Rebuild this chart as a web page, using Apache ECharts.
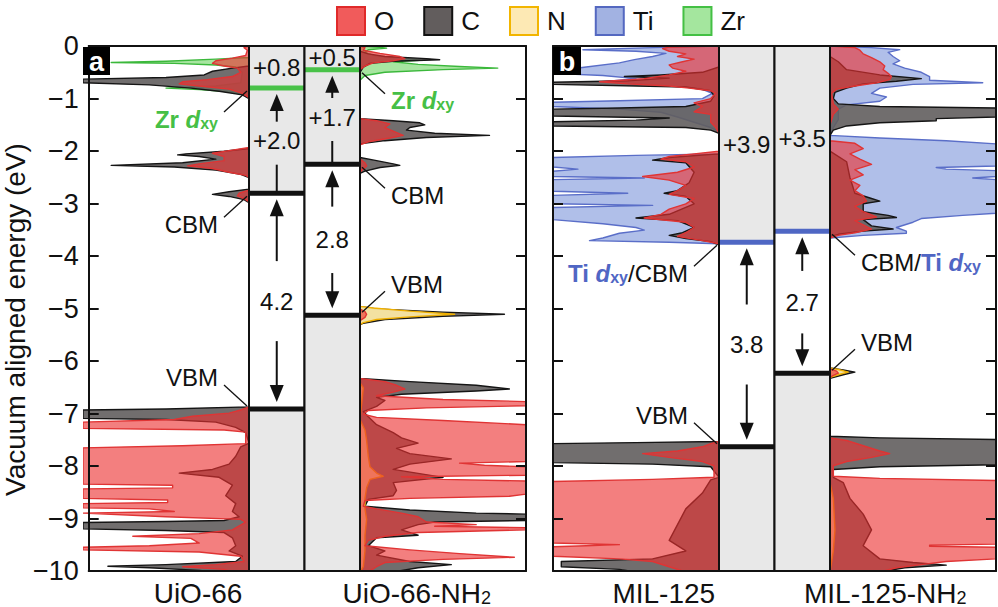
<!DOCTYPE html>
<html><head><meta charset="utf-8">
<script src="https://cdn.jsdelivr.net/npm/echarts@6/dist/echarts.min.js"></script>
<style>html,body{margin:0;padding:0;background:#fff}#c{width:998px;height:607px}</style>
</head><body><div id="c"></div>
<script>
// ---------------- DATA ----------------
const categoriesA = ['UiO-66', 'UiO-66-NH₂'];
const categoriesB = ['MIL-125', 'MIL-125-NH₂'];
const yTickLabels = ['0','−1','−2','−3','−4','−5','−6','−7','−8','−9','−10'];
const legendNames = ['O','C','N','Ti','Zr'];

// band levels (eV) for UiO-66, UiO-66-NH2, MIL-125, MIL-125-NH2
const upperLevel = [-0.8, -0.45, null, null];
const cbmLevel   = [-2.8, -2.25, -3.73, -3.52];
const vbmLevel   = [-6.9, -5.12, -7.62, -6.22];
const topLabel   = ['+0.8', '+0.5', '+3.9', '+3.5'];
const midLabel   = ['+2.0', '+1.7', null, null];
const gapLabel   = ['4.2', '2.8', '3.8', '2.7'];
const annotUpper = ['{g|Zr }{gi|d}{gs|xy}', '{g|Zr }{gi|d}{gs|xy}', null, null];
const annotCbm   = ['CBM', 'CBM', '{b|Ti }{bi|d}{bs|xy}/CBM', 'CBM/{b|Ti }{bi|d}{bs|xy}'];
const annotVbm   = ['VBM', 'VBM', 'VBM', 'VBM'];

// projected DOS, [energy (eV), DOS (fraction of panel width)]
const uio66_Zr = [[0,0],[-0.22,0],[-0.25,0.2],[-0.29,0.5],[-0.315,0.83],[-0.33,0.45],[-0.36,0.2],[-0.4,0.08],[-0.5,0.04],[-0.7,0.05],[-0.76,0.2],[-0.8,0.5],[-0.83,0.3],[-0.88,0.08],[-0.95,0],[-10,0]];
const uio66_C = [[0,0],[-0.38,0],[-0.42,0.1],[-0.48,0.22],[-0.55,0.27],[-0.6,0.5],[-0.63,1.05],[-0.7,1.05],[-0.74,0.6],[-0.8,0.35],[-0.86,0.18],[-0.93,0.04],[-1.0,0],
 [-1.95,0],[-2.0,0.15],[-2.05,0.38],[-2.07,0.43],[-2.1,0.3],[-2.15,0.2],[-2.22,0.4],[-2.27,0.83],[-2.3,0.45],[-2.36,0.2],[-2.44,0.05],[-2.5,0],
 [-2.72,0],[-2.77,0.12],[-2.82,0.22],[-2.86,0.12],[-2.92,0.03],[-2.98,0],
 [-6.86,0],[-6.9,0.5],[-6.92,1.05],[-7.08,1.05],[-7.1,0.5],[-7.15,0.2],[-7.25,0.08],[-7.35,0.02],[-7.55,0],
 [-7.62,0.05],[-7.8,0.08],[-7.95,0.12],[-8.05,0.22],[-8.12,0.42],[-8.2,0.18],[-8.35,0.1],[-8.55,0.14],[-8.7,0.08],[-8.85,0.1],[-8.95,0.06],[-9.02,0.15],[-9.04,0.5],[-9.06,1.05],[-9.18,1.05],[-9.21,0.5],[-9.25,0.15],[-9.35,0.1],[-9.5,0.08],[-9.6,0.12],[-9.7,0.04],[-9.8,0.08],[-9.86,0.5],[-9.89,0.85],[-9.92,0.6],[-9.97,0.3],[-10,0.2]];
const uio66_O = [[0,0],[-0.03,0.03],[-0.08,0.01],[-0.18,0.02],[-0.23,0.1],[-0.28,0.2],[-0.33,0.22],[-0.38,0.15],[-0.42,0.07],[-0.5,0.05],[-0.58,0.1],[-0.64,0.25],[-0.68,0.4],[-0.72,0.42],[-0.76,0.3],[-0.82,0.12],[-0.9,0.04],[-0.98,0],
 [-1.93,0],[-1.98,0.1],[-2.04,0.22],[-2.1,0.15],[-2.18,0.15],[-2.24,0.3],[-2.28,0.37],[-2.33,0.22],[-2.4,0.12],[-2.46,0.02],[-2.5,0],
 [-2.74,0],[-2.8,0.06],[-2.85,0.07],[-2.9,0.03],[-2.96,0],
 [-6.86,0],[-6.92,0.05],[-6.98,0.12],[-7.04,0.34],[-7.1,0.45],[-7.15,1.05],[-7.27,1.05],[-7.3,0.15],[-7.34,0.02],[-7.56,0.02],[-7.6,0.4],[-7.64,1.05],
 [-8.33,1.05],[-8.35,0.46],[-8.4,0.46],[-8.42,1.05],[-8.6,1.05],[-8.63,0.49],[-8.68,0.49],[-8.7,1.05],[-8.78,1.05],[-8.8,0.6],[-8.85,0.45],[-8.88,1.05],[-8.95,0.5],[-9.0,0.05],[-9.05,0.02],
 [-9.2,0.1],[-9.27,0.3],[-9.32,0.7],[-9.36,0.35],[-9.45,0.3],[-9.5,0.6],[-9.53,1.05],[-9.58,1.05],[-9.62,0.3],[-9.7,0.05],[-9.8,0.03],[-9.86,0.2],[-9.9,0.4],[-9.95,0.15],[-10,0.1]];

const uio66nh2_Zr = [[0,0],[-0.02,0.1],[-0.04,0.16],[-0.07,0.05],[-0.12,0.03],[-0.2,0.1],[-0.24,0.3],[-0.27,0.36],[-0.3,0.2],[-0.35,0.35],[-0.39,0.6],[-0.42,0.83],[-0.45,0.5],[-0.5,0.15],[-0.56,0.03],[-0.65,0],[-10,0]];
const uio66nh2_C = [[0,0],[-0.1,0],[-0.15,0.05],[-0.2,0.15],[-0.24,0.4],[-0.26,0.48],[-0.29,0.2],[-0.33,0.06],[-0.4,0.02],[-0.5,0],
 [-1.38,0],[-1.42,0.2],[-1.46,0.36],[-1.5,0.39],[-1.55,0.3],[-1.6,0.28],[-1.66,0.45],[-1.7,0.78],[-1.74,0.4],[-1.8,0.15],[-1.86,0],
 [-2.12,0],[-2.18,0.1],[-2.24,0.2],[-2.27,0.24],[-2.31,0.12],[-2.38,0.03],[-2.42,0],
 [-4.95,0],[-5.0,0.1],[-5.06,0.5],[-5.1,0.87],[-5.14,0.5],[-5.2,0.15],[-5.27,0.02],[-5.3,0],
 [-6.32,0],[-6.38,0.3],[-6.45,0.7],[-6.52,0.9],[-6.56,0.7],[-6.62,0.25],[-6.68,0.1],[-6.74,0.15],[-6.85,0.1],[-6.95,0.02],
 [-7.05,0.05],[-7.2,0.1],[-7.35,0.2],[-7.45,0.25],[-7.55,0.35],[-7.65,0.22],[-7.75,0.3],[-7.85,0.55],[-7.95,0.3],[-8.05,0.2],[-8.2,0.5],[-8.3,0.2],[-8.45,0.22],[-8.55,0.2],[-8.62,0.05],
 [-8.75,0.03],[-8.82,0.3],[-8.88,0.7],[-8.9,1.05],[-9.02,1.05],[-9.05,0.45],[-9.1,0.35],[-9.2,0.25],[-9.3,0.35],[-9.35,0.1],[-9.5,0.05],[-9.6,0.15],[-9.68,0.1],[-9.8,0.3],[-9.86,0.55],[-9.92,0.35],[-10,0.2]];
const uio66nh2_N = [[0,0],[-4.95,0],[-4.98,0.08],[-5.04,0.3],[-5.1,0.57],[-5.15,0.3],[-5.2,0.1],[-5.26,0.02],[-5.3,0],
 [-6.4,0],[-6.5,0.02],[-7.1,0],[-7.3,0.03],[-7.5,0.04],[-7.8,0.05],[-8.0,0.06],[-8.12,0.1],[-8.18,0.14],[-8.24,0.06],[-8.4,0.04],[-8.6,0.03],[-8.8,0.03],[-9.0,0.04],[-9.3,0.03],[-9.6,0.03],[-9.9,0.02],[-10,0]];
const uio66nh2_O = [[0,0],[-0.03,0.03],[-0.08,0.02],[-0.14,0.12],[-0.2,0.24],[-0.24,0.27],[-0.28,0.2],[-0.32,0.08],[-0.38,0.03],[-0.45,0],
 [-1.38,0],[-1.42,0.1],[-1.48,0.18],[-1.55,0.15],[-1.62,0.2],[-1.7,0.26],[-1.75,0.18],[-1.82,0.05],[-1.88,0],
 [-2.15,0],[-2.22,0.03],[-2.28,0.04],[-2.34,0.02],[-2.4,0],
 [-5.0,0],[-5.05,0.03],[-5.1,0.04],[-5.16,0.03],[-5.22,0],
 [-6.32,0],[-6.38,0.15],[-6.45,0.22],[-6.52,0.27],[-6.58,0.2],[-6.65,0.1],[-6.72,0.5],[-6.76,1.05],[-6.84,1.05],[-6.88,0.4],[-6.93,0.05],[-7.0,0.02],
 [-7.06,0.1],[-7.12,0.5],[-7.2,1.05],[-7.9,1.05],[-7.93,0.6],[-7.97,0.75],[-8.0,1.05],[-8.16,1.05],[-8.19,0.25],[-8.24,0.5],[-8.27,1.05],[-8.52,1.05],[-8.56,0.9],[-8.6,0.3],[-8.64,0.03],
 [-8.75,0.02],[-8.8,0.1],[-8.88,0.25],[-8.95,0.35],[-9.05,0.4],[-9.1,0.7],[-9.13,0.45],[-9.16,1.05],[-9.2,1.05],[-9.25,0.35],[-9.32,0.15],[-9.4,0.05],[-9.5,0.03],
 [-9.58,0.3],[-9.65,0.6],[-9.72,0.93],[-9.76,0.5],[-9.82,0.15],[-9.9,0.1],[-10,0.05]];

const mil125_Ti = [[0,0],[-0.03,0.4],[-0.07,0.82],[-0.1,0.5],[-0.14,0.32],[-0.2,0.4],[-0.26,0.51],[-0.32,0.6],[-0.4,0.8],[-0.46,0.95],[-0.52,1.05],[-0.56,0.7],[-0.62,0.5],[-0.68,0.7],[-0.74,0.4],[-0.8,0.12],[-0.9,0.04],[-1.0,0.1],[-1.04,0.6],[-1.07,1.05],[-1.15,1.05],[-1.2,0.6],[-1.26,0.35],[-1.35,0.25],[-1.45,0.15],[-1.55,0.05],[-1.62,0],
 [-2.05,0],[-2.08,0.5],[-2.12,1.05],[-2.3,1.05],[-2.34,0.85],[-2.38,1.05],[-2.48,1.05],[-2.51,0.45],[-2.54,1.05],[-2.76,1.05],[-2.8,0.55],[-2.84,1.05],[-3.0,1.05],[-3.03,0.4],[-3.07,1.05],[-3.3,1.05],[-3.38,0.7],[-3.45,0.5],[-3.5,0.45],[-3.56,0.6],[-3.65,0.7],[-3.7,0.78],[-3.73,0.3],[-3.76,0],[-10,0]];
const mil125_C = [[0,0],[-0.4,0],[-0.5,0.1],[-0.55,0.35],[-0.58,0.57],[-0.61,0.3],[-0.66,0.55],[-0.69,1.05],[-0.73,1.05],[-0.78,0.2],[-0.85,0.05],[-0.95,0.03],[-1.05,0.05],[-1.15,0.2],[-1.18,0.6],[-1.2,1.05],[-1.33,1.05],[-1.37,0.3],[-1.41,0.5],[-1.44,1.05],[-1.52,1.05],[-1.55,0.2],[-1.6,0.05],[-1.66,0],
 [-2.05,0],[-2.12,0.3],[-2.17,0.4],[-2.22,0.2],[-2.4,0.15],[-2.6,0.18],[-2.75,0.25],[-2.8,0.33],[-2.86,0.2],[-3.0,0.15],[-3.2,0.3],[-3.27,0.5],[-3.32,0.25],[-3.45,0.15],[-3.55,0.22],[-3.6,0.3],[-3.66,0.2],[-3.72,0.05],[-3.78,0],
 [-7.52,0],[-7.54,0.5],[-7.56,1.05],[-7.92,1.05],[-7.95,0.4],[-8.0,0.05],[-8.2,0],[-8.25,0.05],[-8.5,0.1],[-8.8,0.2],[-9.1,0.25],[-9.4,0.3],[-9.6,0.2],[-9.75,0.4],[-9.8,0.95],[-9.9,0.95],[-9.95,0.6],[-10,0.5]];
const mil125_O = [[0,0],[-0.02,0.3],[-0.05,0.34],[-0.1,0.3],[-0.15,0.2],[-0.2,0.25],[-0.25,0.15],[-0.3,0.22],[-0.36,0.3],[-0.42,0.28],[-0.48,0.2],[-0.55,0.3],[-0.62,0.45],[-0.68,0.72],[-0.72,0.55],[-0.76,0.3],[-0.8,0.18],[-0.85,0.05],[-0.9,0.02],[-1.0,0.05],[-1.08,0.15],[-1.15,0.1],[-1.25,0.15],[-1.3,0.05],[-1.45,0.05],[-1.55,0.02],[-1.65,0],
 [-2.0,0],[-2.05,0.15],[-2.1,0.3],[-2.15,0.35],[-2.2,0.2],[-2.3,0.15],[-2.4,0.25],[-2.48,0.46],[-2.55,0.3],[-2.65,0.2],[-2.75,0.25],[-2.82,0.3],[-2.9,0.15],[-3.0,0.2],[-3.1,0.3],[-3.2,0.35],[-3.27,0.45],[-3.35,0.2],[-3.45,0.15],[-3.55,0.2],[-3.62,0.25],[-3.7,0.1],[-3.76,0],
 [-7.52,0],[-7.56,0.05],[-7.62,0.1],[-7.7,0.25],[-7.75,0.46],[-7.82,0.3],[-7.9,0.1],[-7.98,0.03],[-8.2,0.03],[-8.24,0.4],[-8.28,1.05],[-9.45,1.05],[-9.48,0.6],[-9.5,0.8],[-9.52,1.05],[-9.7,1.05],[-9.75,0.6],[-9.8,0.4],[-9.9,0.3],[-10,0.2]];

const mil125nh2_Ti = [[0,0],[-0.03,0.25],[-0.07,0.42],[-0.12,0.35],[-0.2,0.38],[-0.28,0.42],[-0.34,0.38],[-0.42,0.45],[-0.5,0.55],[-0.58,0.6],[-0.65,0.6],[-0.7,0.92],[-0.73,0.5],[-0.8,0.3],[-0.9,0.25],[-0.97,0.34],[-1.05,0.3],[-1.12,0.1],[-1.2,0.05],[-1.4,0.05],[-1.55,0.02],[-1.7,0],[-1.75,0.3],[-1.8,0.7],[-1.86,1.05],[-2.28,1.05],[-2.31,0.64],[-2.34,0.7],[-2.37,1.05],[-2.48,1.05],[-2.51,0.86],[-2.54,1.05],[-3.18,1.05],[-3.22,0.8],[-3.28,0.55],[-3.35,0.5],[-3.45,0.4],[-3.52,0.46],[-3.56,0.46],[-3.6,0.2],[-3.65,0],[-10,0]];
const mil125nh2_C = [[0,0],[-0.2,0],[-0.3,0.05],[-0.45,0.1],[-0.55,0.3],[-0.62,0.55],[-0.67,0.4],[-0.72,0.2],[-0.8,0.1],[-0.88,0.03],[-1.0,0.02],[-1.1,0.05],[-1.15,0.3],[-1.18,1.05],[-1.35,1.05],[-1.38,0.64],[-1.42,0.64],[-1.46,0.3],[-1.52,0.1],[-1.6,0.02],[-1.7,0],
 [-2.0,0],[-2.2,0.1],[-2.5,0.12],[-2.8,0.15],[-2.9,0.25],[-2.95,0.3],[-3.0,0.2],[-3.15,0.2],[-3.22,0.35],[-3.26,0.4],[-3.3,0.2],[-3.42,0.25],[-3.48,0.38],[-3.52,0.2],[-3.58,0.05],[-3.62,0],
 [-6.12,0],[-6.16,0.08],[-6.2,0.15],[-6.25,0.08],[-6.32,0],
 [-7.42,0],[-7.45,0.3],[-7.48,1.05],[-7.96,1.05],[-8.0,0.3],[-8.05,0.02],[-8.2,0.02],[-8.3,0.08],[-8.6,0.12],[-8.9,0.2],[-9.2,0.25],[-9.5,0.2],[-9.75,0.3],[-9.82,0.5],[-9.87,0.7],[-9.92,0.45],[-10,0.3]];
const mil125nh2_N = [[0,0],[-6.12,0],[-6.15,0.05],[-6.2,0.11],[-6.24,0.06],[-6.3,0],[-8.3,0],[-8.6,0.02],[-9.2,0.03],[-9.6,0.02],[-10,0]];
const mil125nh2_O = [[0,0],[-0.03,0.15],[-0.08,0.18],[-0.15,0.2],[-0.22,0.25],[-0.3,0.3],[-0.38,0.33],[-0.45,0.32],[-0.52,0.35],[-0.58,0.37],[-0.64,0.36],[-0.7,0.28],[-0.76,0.15],[-0.82,0.04],[-0.9,0.01],[-1.1,0.02],[-1.2,0.05],[-1.3,0.02],[-1.5,0],
 [-1.8,0],[-1.85,0.15],[-1.95,0.2],[-2.05,0.12],[-2.15,0.18],[-2.25,0.25],[-2.35,0.15],[-2.45,0.2],[-2.55,0.12],[-2.65,0.18],[-2.75,0.15],[-2.85,0.2],[-2.95,0.22],[-3.05,0.15],[-3.15,0.2],[-3.25,0.28],[-3.32,0.15],[-3.4,0.2],[-3.48,0.25],[-3.55,0.15],[-3.6,0.05],[-3.65,0],
 [-6.14,0],[-6.18,0.04],[-6.22,0.05],[-6.26,0.02],[-6.3,0],
 [-7.45,0],[-7.5,0.1],[-7.6,0.2],[-7.7,0.3],[-7.75,0.36],[-7.82,0.25],[-7.9,0.1],[-7.98,0.02],[-8.18,0.02],[-8.22,0.3],[-8.26,1.05],[-9.47,1.05],[-9.49,0.6],[-9.51,0.6],[-9.53,1.05],[-9.75,1.05],[-9.8,0.7],[-9.86,0.55],[-9.92,0.4],[-10,0.3]];

// ---------------- STYLE / LAYOUT ----------------
const FF = "'Liberation Sans', Arial, Helvetica, sans-serif";
const speciesStyle = {
  O:  {fill:'rgba(236,48,48,0.62)',  stroke:'#e03434'},
  C:  {fill:'rgba(98,94,94,0.9)',    stroke:'#151515'},
  N:  {fill:'rgba(254,234,165,0.92)',stroke:'#f0b000'},
  Ti: {fill:'rgba(150,170,225,0.75)',stroke:'#5a6ec8'},
  Zr: {fill:'rgba(130,218,120,0.7)', stroke:'#3bb83b'}
};
const legendFill   = ['#f15b5b','#625d5d','#fde9b4','#a2b2e2','#a4e69e'];
const legendStroke = ['#e02a2a','#111111','#f2b500','#5468c0','#44c044'];
const cbmColor = ['#111','#111','#4f67c4','#4f67c4'];
const levelGreen = '#49c249';

const dosSets = [
  [['Zr',uio66_Zr],['C',uio66_C],['O',uio66_O]],
  [['Zr',uio66nh2_Zr],['C',uio66nh2_C],['N',uio66nh2_N],['O',uio66nh2_O]],
  [['Ti',mil125_Ti],['C',mil125_C],['O',mil125_O]],
  [['Ti',mil125nh2_Ti],['C',mil125nh2_C],['N',mil125nh2_N],['O',mil125nh2_O]]
];

const richAnnot = {
  g:  {fontSize:24, fontWeight:'bold', fill:'#46bf46', color:'#46bf46', fontFamily:FF},
  gi: {fontSize:24, fontWeight:'bold', fontStyle:'italic', fill:'#46bf46', color:'#46bf46', fontFamily:FF},
  gs: {fontSize:16, fontWeight:'bold', fill:'#46bf46', color:'#46bf46', fontFamily:FF, verticalAlign:'bottom'},
  b:  {fontSize:24, fontWeight:'bold', fill:'#5066c4', color:'#5066c4', fontFamily:FF},
  bi: {fontSize:24, fontWeight:'bold', fontStyle:'italic', fill:'#5066c4', color:'#5066c4', fontFamily:FF},
  bs: {fontSize:16, fontWeight:'bold', fill:'#5066c4', color:'#5066c4', fontFamily:FF, verticalAlign:'bottom'}
};

function dosSeries(name, pts, xi, yi) {
  const st = speciesStyle[name];
  return {
    type:'custom', name, xAxisIndex:xi, yAxisIndex:yi, clip:true, silent:true, z:2,
    data:[[0,0]],
    renderItem(params, api) {
      const P = pts.map(p => api.coord([Math.min(p[1], 1), p[0]]));
      P.unshift(api.coord([0, pts[0][0]]));
      P.push(api.coord([0, pts[pts.length-1][0]]));
      return {type:'polygon', shape:{points:P}, style:{fill:st.fill, stroke:st.stroke, lineWidth:1.4, lineJoin:'round'}};
    }
  };
}

function ln(x1,y1,x2,y2,color,w){ return {type:'line', shape:{x1,y1,x2,y2}, style:{stroke:color, lineWidth:w}}; }
function txt(x,y,t,extra){ return {type:'text', x, y, style:Object.assign({text:t, fontSize:24, fontFamily:FF, fill:'#111', align:'center', verticalAlign:'middle'}, extra||{})}; }
function arrow(x, yFrom, yTip) {
  const dir = Math.sign(yTip - yFrom), hl = 17, hw = 7;
  return [ln(x, yFrom, x, yTip - dir*hl*0.7, '#111', 2),
    {type:'polygon', shape:{points:[[x,yTip],[x-hw,yTip-dir*hl],[x+hw,yTip-dir*hl]]}, style:{fill:'#111'}}];
}

function bandSeries(mats, xi, yi) {
  return {
    type:'custom', xAxisIndex:xi, yAxisIndex:yi, z:3, silent:true, clip:false,
    data: mats.map((m,i)=>[i+0.5, -5]),
    renderItem(params, api) {
      const i = params.dataIndex, m = mats[i];
      const [xL, y0] = api.coord([i, 0]);
      const [xR, yB] = api.coord([i+1, -10]);
      const xc = (xL+xR)/2, w = xR-xL;
      const Y = e => api.coord([0,e])[1];
      const yC = Y(cbmLevel[m]), yV = Y(vbmLevel[m]);
      const yU = upperLevel[m] != null ? Y(upperLevel[m]) : null;
      const ch = [];
      ch.push({type:'rect', shape:{x:xL,y:y0,width:w,height:yB-y0}, style:{fill:'#e8e8e8'}});
      ch.push({type:'rect', shape:{x:xL,y:yC,width:w,height:yV-yC}, style:{fill:'#ffffff'}});
      if (yU != null) ch.push(ln(xL,yU,xR,yU,levelGreen,5));
      ch.push(ln(xL,yC,xR,yC,cbmColor[m],5));
      ch.push(ln(xL,yV,xR,yV,'#111',5));
      ch.push(ln(xL,y0,xL,yB,'#111',2), ln(xR,y0,xR,yB,'#111',2));
      const firstY = yU != null ? yU : yC;
      ch.push(txt(xc,(y0+firstY)/2, topLabel[m]));
      if (yU != null) {
        const mid = (yU+yC)/2;
        ch.push(txt(xc, mid, midLabel[m]));
        ch.push(...arrow(xc, mid-19, yU+6));
        ch.push(ln(xc, mid+24, xc, yC, '#111', 2));
      }
      const mid2 = (yC+yV)/2, g = Math.min(40, (yV-yC)*0.22);
      ch.push(txt(xc, mid2, gapLabel[m]));
      ch.push(...arrow(xc, mid2-g, yC+6));
      ch.push(...arrow(xc, mid2+g, yV-7));
      return {type:'group', children:ch};
    }
  };
}

function annotSeries(mats, xi, yi) {
  return {
    type:'custom', xAxisIndex:xi, yAxisIndex:yi, z:4, silent:true, clip:false,
    data: mats.map((m,i)=>[i+0.5, -5]),
    renderItem(params, api) {
      const i = params.dataIndex, m = mats[i];
      const side = i === 0 ? -1 : 1;
      const xEdge = api.coord([i === 0 ? 0 : 2, 0])[0];
      const items = [[upperLevel[m], annotUpper[m], 1], [cbmLevel[m], annotCbm[m], 1], [vbmLevel[m], annotVbm[m], -1]];
      const ch = [];
      items.forEach(([lv, t, dir]) => {
        if (lv == null || t == null) return;
        const ya = api.coord([0, lv])[1];
        const x1 = xEdge + side*2, y1 = ya + dir*3;
        const x2 = xEdge + side*25, y2 = ya + dir*24;
        ch.push(ln(x1,y1,x2,y2,'#111',1.3));
        ch.push(txt(x2 + side*6, y2 + dir*7, t, {align: side < 0 ? 'right' : 'left', rich: richAnnot}));
      });
      return {type:'group', children:ch};
    }
  };
}

// ---------------- BUILD OPTION ----------------
const grids = [], xAxes = [], yAxes = [], series = [];
const panelX = [83, 553];
const panelCats = [categoriesA, categoriesB];
const blackLine = {show:true, onZero:false, lineStyle:{color:'#111', width:2}};
const frameTick = {show:true, inside:true, length:10, lineStyle:{color:'#111', width:2}};
panelX.forEach((x0, p) => {
  const gF = grids.length; grids.push({left:x0, top:46, width:443, height:526});
  const gL = grids.length; grids.push({left:x0, top:46, width:166, height:526});
  const gB = grids.length; grids.push({left:x0+166, top:46, width:111, height:526});
  const gR = grids.length; grids.push({left:x0+277, top:46, width:166, height:526});
  xAxes.push({gridIndex:gF, type:'category', data:panelCats[p], position:'bottom', z:10, axisLine:blackLine, axisTick:{show:false}, splitLine:{show:false},
    axisLabel:{interval:0, hideOverlap:false, fontSize:28, color:'#111', fontFamily:FF, margin:8, formatter:v => v.replace('₂','{s|2}'),
      rich:{s:{fontSize:18, color:'#111', fontFamily:FF, verticalAlign:'bottom'}}}});
  xAxes.push({gridIndex:gF, type:'value', min:0, max:1, position:'top', z:10, axisLine:blackLine, axisTick:{show:false}, axisLabel:{show:false}, splitLine:{show:false}});
  yAxes.push({gridIndex:gF, type:'value', min:-10, max:0, interval:1, position:'left', z:10, axisLine:blackLine, axisTick:frameTick, splitLine:{show:false},
    axisLabel:{show:p===0, fontSize:27, color:'#111', fontFamily:FF, margin:10, formatter:v => yTickLabels[Math.round(-v)]},
    name: p===0 ? 'Vacuum aligned energy (eV)' : '', nameLocation:'middle', nameRotate:90, nameGap:54,
    nameTextStyle:{fontSize:28, color:'#111', fontFamily:FF, padding:[0,22,0,0]}});
  yAxes.push({gridIndex:gF, type:'value', min:-10, max:0, interval:1, position:'right', z:10, axisLine:blackLine, axisTick:frameTick, splitLine:{show:false}, axisLabel:{show:false}});
  const xiL = xAxes.length; xAxes.push({gridIndex:gL, type:'value', min:0, max:1, inverse:true, show:false});
  const xiB = xAxes.length; xAxes.push({gridIndex:gB, type:'value', min:0, max:2, show:false});
  const xiR = xAxes.length; xAxes.push({gridIndex:gR, type:'value', min:0, max:1, show:false});
  const yiL = yAxes.length; yAxes.push({gridIndex:gL, type:'value', min:-10, max:0, show:false});
  const yiB = yAxes.length; yAxes.push({gridIndex:gB, type:'value', min:-10, max:0, show:false});
  const yiR = yAxes.length; yAxes.push({gridIndex:gR, type:'value', min:-10, max:0, show:false});
  const mats = [2*p, 2*p+1];
  dosSets[mats[0]].forEach(([n,d]) => series.push(dosSeries(n, d, xiL, yiL)));
  dosSets[mats[1]].forEach(([n,d]) => series.push(dosSeries(n, d, xiR, yiR)));
  series.push(bandSeries(mats, xiB, yiB));
  series.push(annotSeries(mats, xiB, yiB));
});

const option = {
  animation:false,
  textStyle:{fontFamily:FF},
  legend:{top:1, left:331, itemWidth:28, itemHeight:28, itemGap:29, selectedMode:false, icon:'rect',
    textStyle:{fontSize:26, color:'#111', fontFamily:FF, padding:[0,0,0,4]},
    data: legendNames.map((n,i) => ({name:n, icon:'rect', itemStyle:{color:legendFill[i], borderColor:legendStroke[i], borderWidth:2}}))},
  grid:grids, xAxis:xAxes, yAxis:yAxes, series,
  graphic:[
    {type:'rect', z:100, shape:{x:83, y:47, width:27, height:28}, style:{fill:'#000'}},
    {type:'text', z:101, x:96.5, y:61.5, style:{text:'a', fill:'#fff', font:"bold 27px 'Liberation Sans', Arial", align:'center', verticalAlign:'middle', textAlign:'center', textVerticalAlign:'middle'}},
    {type:'rect', z:100, shape:{x:553, y:47, width:28, height:28}, style:{fill:'#000'}},
    {type:'text', z:101, x:567, y:61.5, style:{text:'b', fill:'#fff', font:"bold 27px 'Liberation Sans', Arial", align:'center', verticalAlign:'middle', textAlign:'center', textVerticalAlign:'middle'}}
  ]
};
const chart = echarts.init(document.getElementById('c'), null, {renderer:'svg'});
chart.setOption(option);
</script></body></html>
